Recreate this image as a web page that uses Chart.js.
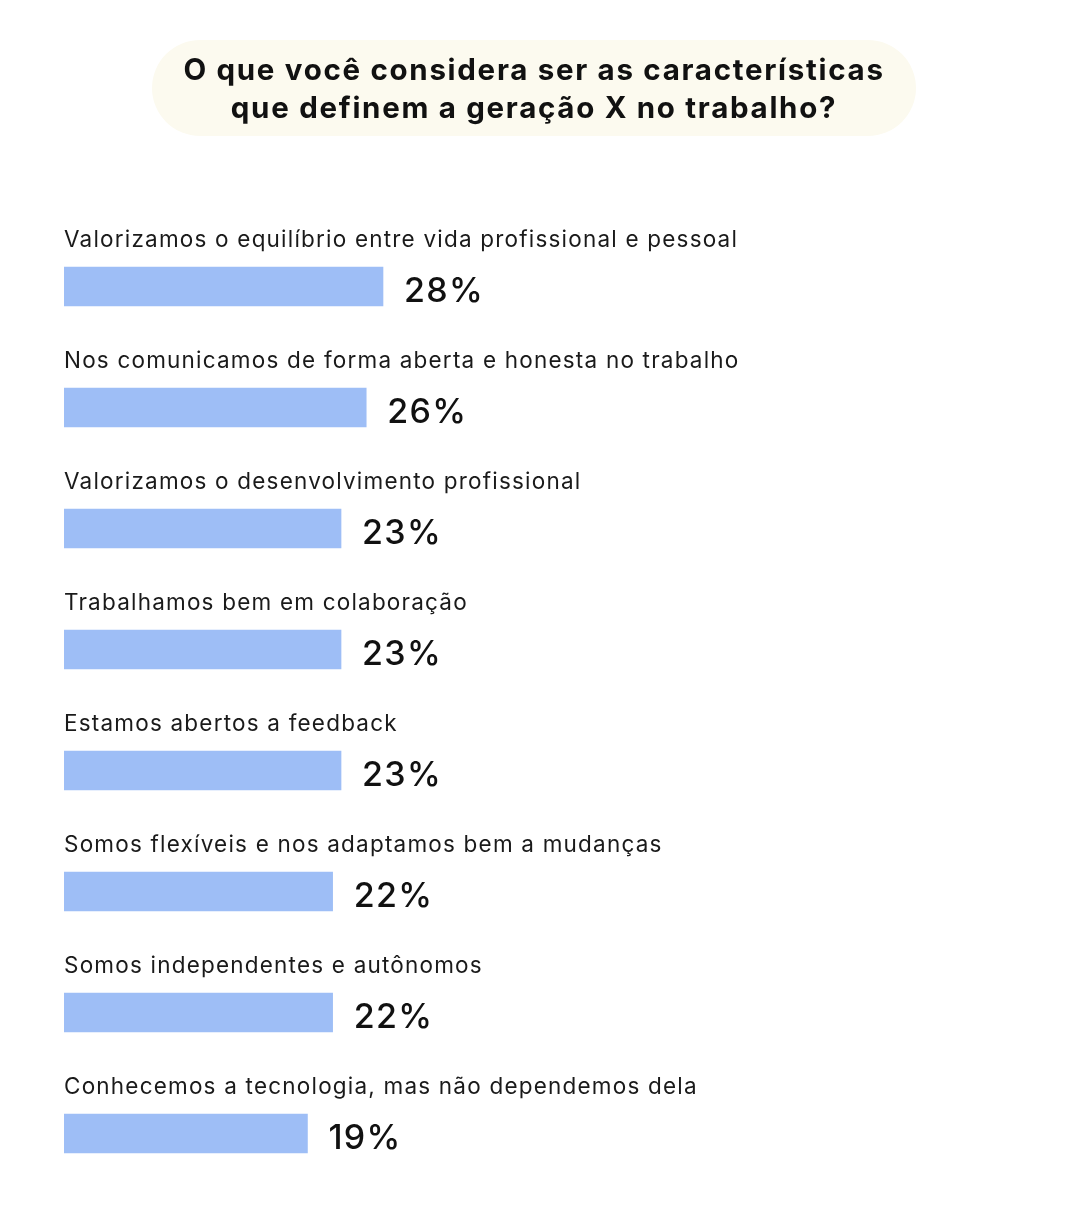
<!DOCTYPE html>
<html>
<head>
<meta charset="utf-8">
<script src="https://cdn.jsdelivr.net/npm/chart.js@4.4.1/dist/chart.umd.min.js"></script>
<style>
  body { margin: 0; background: #ffffff; }
  #wrap { position: relative; width: 1069px; height: 1221px; }
  #title {
    position: absolute; left: 152px; top: 40px; width: 764px; height: 96px;
    border-radius: 48px; background: #fcfaef;
    font-family: Inter, sans-serif; font-weight: 700; font-size: 29.5px;
    letter-spacing: 1.7px;
    line-height: 38px; color: #111; text-align: center;
    display: flex; align-items: center; justify-content: center;
  }
  canvas { position: absolute; left: 0; top: 0; }
</style>
</head>
<body>
<div id="wrap">
  <canvas id="chart-bars" width="1069" height="1221"></canvas>
  <div id="title">O que você considera ser as características<br>que definem a geração X no trabalho?</div>
</div>
<script>
const categories = [
  'Valorizamos o equilíbrio entre vida profissional e pessoal',
  'Nos comunicamos de forma aberta e honesta no trabalho',
  'Valorizamos o desenvolvimento profissional',
  'Trabalhamos bem em colaboração',
  'Estamos abertos a feedback',
  'Somos flexíveis e nos adaptamos bem a mudanças',
  'Somos independentes e autônomos',
  'Conhecemos a tecnologia, mas não dependemos dela'
];
const values = [28, 26, 23, 23, 23, 22, 22, 19];

// draws the category text above each bar and the percentage to its right
const barText = {
  id: 'barText',
  afterDatasetsDraw(chart) {
    const ctx = chart.ctx;
    const meta = chart.getDatasetMeta(0);
    ctx.save();
    meta.data.forEach(function (bar, i) {
      ctx.fillStyle = '#1a1a1a';
      ctx.textAlign = 'left';
      ctx.textBaseline = 'alphabetic';
      ctx.font = '400 22.5px Inter, sans-serif';
      ctx.letterSpacing = '1.2px';
      ctx.fillText(categories[i], chart.chartArea.left, bar.y - 40);
      ctx.fillStyle = '#111';
      ctx.font = '500 34px Inter, sans-serif';
      ctx.letterSpacing = '1.3px';
      ctx.fillText(values[i] + '%', bar.x + 21, bar.y + 15);
    });
    ctx.restore();
  }
};

new Chart(document.getElementById('chart-bars'), {
  type: 'bar',
  data: {
    labels: categories,
    datasets: [{
      data: values,
      base: -10,
      backgroundColor: '#9ebef6',
      barThickness: 39
    }]
  },
  options: {
    indexAxis: 'y',
    responsive: false,
    animation: false,
    layout: { padding: { left: 64, right: 81.6, top: 226, bottom: 27 } },
    scales: {
      x: { display: false, min: -10, max: 100 },
      y: { display: false }
    },
    plugins: {
      legend: { display: false },
      tooltip: { enabled: false }
    }
  },
  plugins: [barText]
});
</script>
</body>
</html>
